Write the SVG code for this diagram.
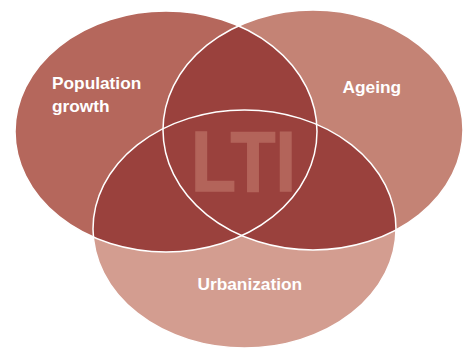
<svg xmlns="http://www.w3.org/2000/svg" width="464" height="350" viewBox="0 0 464 350">
  <style>
    .lbl { font-family: "Liberation Sans", Arial, sans-serif; font-weight: bold; font-size: 17.3px; fill: #ffffff; }
    .ring { fill: none; stroke: #ffffff; stroke-width: 1.5; }
    .dark { fill: #9a413d; }
  </style>
  <defs>
    <clipPath id="clipL"><ellipse cx="166" cy="131.5" rx="151" ry="120.5"/></clipPath>
    <clipPath id="clipR"><ellipse cx="313" cy="130" rx="150" ry="120"/></clipPath>
  </defs>
  <rect width="464" height="350" fill="#ffffff"/>
  <g id="population">
    <ellipse cx="166" cy="131.5" rx="151" ry="120.5" fill="#b5675c"/>
  </g>
  <g id="ageing">
    <ellipse cx="313" cy="130" rx="150" ry="120" fill="#c48375"/>
  </g>
  <g id="urbanization">
    <ellipse cx="244.5" cy="229" rx="151.5" ry="119" fill="#d39d90"/>
  </g>
  <g id="overlaps">
    <ellipse class="dark" cx="313" cy="130" rx="150" ry="120" clip-path="url(#clipL)"/>
    <ellipse class="dark" cx="244.5" cy="229" rx="151.5" ry="119" clip-path="url(#clipL)"/>
    <ellipse class="dark" cx="244.5" cy="229" rx="151.5" ry="119" clip-path="url(#clipR)"/>
  </g>
  <g id="lti">
    <text x="191" y="191" font-family="'Liberation Sans', Arial, sans-serif" font-weight="bold" font-size="85" fill="#b3645a" stroke="#b3645a" stroke-width="1.5" textLength="105" lengthAdjust="spacingAndGlyphs">LTI</text>
  </g>
  <g id="outlines">
    <ellipse class="ring" cx="166" cy="131.5" rx="151" ry="120.5"/>
    <ellipse class="ring" cx="313" cy="130" rx="150" ry="120"/>
    <ellipse class="ring" cx="244.5" cy="229" rx="151.5" ry="119"/>
  </g>
  <g id="labels">
    <text class="lbl" x="52" y="89">Population</text>
    <text class="lbl" x="52" y="112">growth</text>
    <text class="lbl" x="342.5" y="93">Ageing</text>
    <text class="lbl" x="197.5" y="290">Urbanization</text>
  </g>
</svg>
